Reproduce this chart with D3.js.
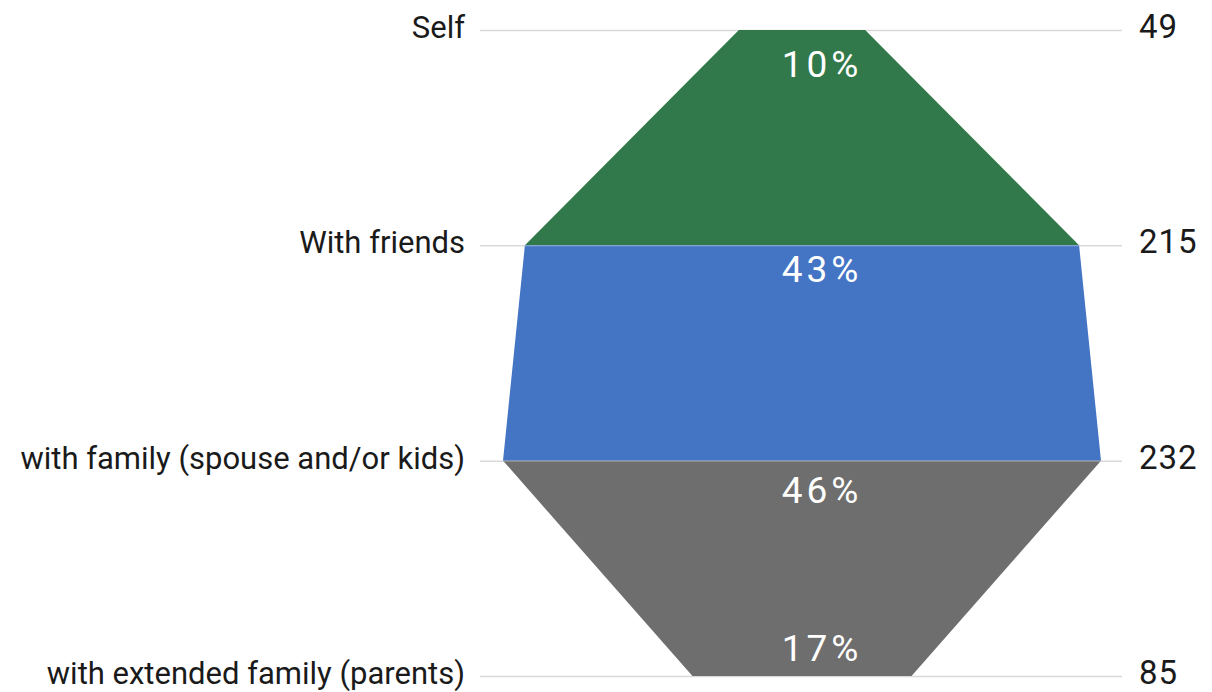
<!DOCTYPE html>
<html>
<head>
<meta charset="utf-8">
<script src="https://cdn.jsdelivr.net/npm/d3@7"></script>
<style>
  html, body { margin: 0; padding: 0; background: #ffffff; }
  svg { display: block; }
  .cat { font-family: Roboto, "Noto Sans", sans-serif; font-size: 31px; fill: #1a1a1a; }
  .num { font-family: Roboto, "Noto Sans", sans-serif; font-size: 33px; fill: #1a1a1a; letter-spacing: 1px; }
  .pct { font-family: Roboto, "Noto Sans", sans-serif; font-size: 37px; fill: #ffffff; letter-spacing: 4px; }
</style>
</head>
<body>
<script>
// Who people travel with: counts per group and their share labels
const categories = ["Self", "With friends", "with family (spouse and/or kids)", "with extended family (parents)"];
const counts = [49, 215, 232, 85];
const shareLabels = ["10%", "43%", "46%", "17%"];
const bandColors = ["#31794a", "#4474c4", "#6e6e6e"];

const W = 1212, H = 692;
const svg = d3.select("body").append("svg").attr("width", W).attr("height", H);

const y = d3.scalePoint().domain(categories).range([30, 676]);
const maxCount = d3.max(counts);
const x = d3.scaleLinear().domain([-maxCount / 2, maxCount / 2]).range([503, 1101]);

const pts = categories.map((c, i) => ({ cat: c, v: counts[i], y: y(c) }));

// Light horizontal rules at each category
svg.append("g").selectAll("line").data(pts).join("line")
  .attr("x1", 480).attr("x2", 1122)
  .attr("y1", d => y(d.cat) + 0.5).attr("y2", d => y(d.cat) + 0.5)
  .attr("stroke", "#d9d9d9").attr("stroke-width", 1.5);

// Symmetric band between each pair of neighbouring categories
const area = d3.area()
  .y(d => d.y)
  .x0(d => x(-d.v / 2))
  .x1(d => x(d.v / 2))
  .curve(d3.curveLinear);

const bands = d3.range(pts.length - 1).map(i => [pts[i], pts[i + 1]]);
svg.append("g").selectAll("path").data(bands).join("path")
  .attr("d", d => area(d))
  .attr("fill", (d, i) => bandColors[i]);

// Rules show faintly across the filled bands
svg.append("g").selectAll("line").data(pts.slice(1, -1)).join("line")
  .attr("x1", d => x(-d.v / 2)).attr("x2", d => x(d.v / 2))
  .attr("y1", d => y(d.cat) + 0.5).attr("y2", d => y(d.cat) + 0.5)
  .attr("stroke", "#ffffff").attr("stroke-opacity", 0.35).attr("stroke-width", 1);

// Category names on the left
svg.append("g").selectAll("text").data(pts).join("text")
  .attr("class", "cat")
  .attr("x", 465).attr("y", d => y(d.cat) - 3)
  .attr("dy", "0.35em")
  .attr("text-anchor", "end")
  .text(d => d.cat);

// Counts on the right
svg.append("g").selectAll("text").data(pts).join("text")
  .attr("class", "num")
  .attr("x", 1139).attr("y", d => y(d.cat) - 3)
  .attr("dy", "0.33em")
  .text(d => d.v);

// Share labels inside the shape: below each point, above the final one
const last = pts.length - 1;
const labelOffset = i => i === last ? -28 : (i === 0 ? 34 : (i === 1 ? 23 : 29));
svg.append("g").selectAll("text").data(pts).join("text")
  .attr("class", "pct")
  .attr("x", x(0) + 20)
  .attr("y", (d, i) => d.y + labelOffset(i))
  .attr("dy", "0.36em")
  .attr("text-anchor", "middle")
  .text((d, i) => shareLabels[i]);
</script>
</body>
</html>
